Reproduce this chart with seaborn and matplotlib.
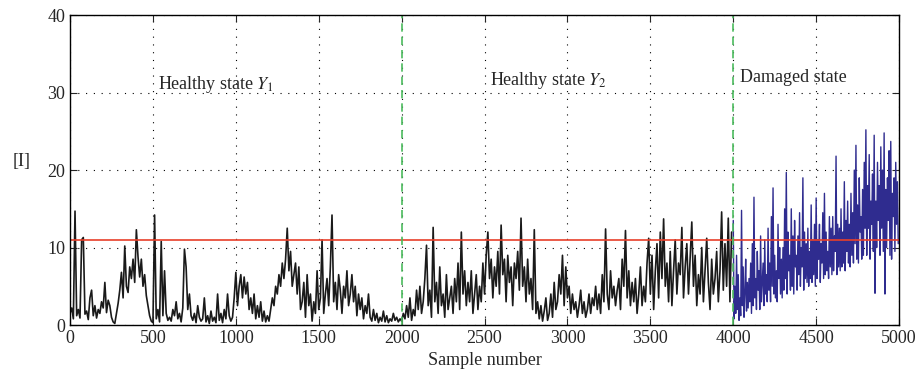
import numpy as np
import matplotlib
matplotlib.use("Agg")
import matplotlib.pyplot as plt
import seaborn as sns

sns.set_style("ticks")
plt.rcParams['font.family'] = ['Liberation Serif', 'DejaVu Serif']
plt.rcParams['mathtext.fontset'] = 'stix'

step_h = 10  # samples between read-off values, healthy part
step_d = 5   # damaged part

# healthy state Y1, samples 0..1990
healthy1 = [
    1.5, 2.2, 0.8, 14.7, 1.2, 2.0, 0.9, 11.0, 11.3, 1.4,
    1.8, 0.7, 3.5, 4.5, 1.2, 2.5, 0.9, 2.0, 1.5, 3.0,
    2.2, 5.5, 1.6, 3.2, 2.5, 1.0, 0.4, 0.2, 1.5, 2.8,
    4.5, 6.8, 3.5, 10.2, 5.0, 4.2, 7.5, 6.0, 8.5, 5.5,
    12.3, 8.8, 6.2, 8.5, 5.0, 6.5, 3.8, 2.5, 1.2, 0.5,
    0.3, 14.2, 0.8, 2.0, 0.4, 10.8, 1.2, 7.0, 1.5, 0.6,
    1.0, 0.5, 2.0, 1.2, 3.0, 0.8, 1.5, 0.4, 2.2, 9.8,
    7.5, 2.0, 4.0, 1.2, 0.6, 1.5, 0.3, 2.5, 1.0, 0.5,
    0.8, 3.5, 0.4, 1.2, 0.2, 1.8, 0.5, 1.0, 0.3, 4.0,
    0.6, 1.5, 0.3, 2.0, 0.8, 4.0, 1.2, 0.5, 1.0, 3.5,
    6.8, 2.5, 5.0, 6.5, 3.5, 6.2, 4.0, 5.5, 2.0, 3.5,
    1.5, 4.0, 0.8, 2.5, 1.0, 3.0, 0.5, 1.8, 0.4, 1.2,
    0.5, 2.0, 3.5, 2.5, 5.0, 4.0, 6.5, 5.0, 8.0, 6.0,
    8.5, 12.5, 7.0, 9.5, 5.0, 6.5, 8.0, 4.0, 7.5, 2.0,
    3.0, 5.5, 1.0, 6.5, 2.5, 4.0, 0.5, 3.0, 1.5, 7.0,
    2.0, 3.5, 11.0, 1.5, 4.0, 6.0, 2.5, 7.5, 14.2, 3.0,
    5.5, 2.0, 6.5, 4.5, 1.5, 5.0, 3.5, 7.0, 2.5, 4.0,
    6.5, 3.0, 5.0, 1.2, 4.0, 2.0, 3.5, 0.8, 2.5, 1.5,
    4.0, 1.0, 0.5, 2.0, 0.6, 1.5, 0.3, 1.0, 0.5, 1.8,
    0.4, 1.2, 0.3, 0.8, 0.5, 1.5, 0.6, 1.0, 0.4, 0.8,
]

# healthy state Y2, samples 2000..3990
healthy2 = [
    0.5, 1.5, 0.8, 2.5, 1.0, 3.5, 0.6, 2.0, 1.2, 4.5,
    2.0, 5.0, 1.5, 3.0, 6.0, 10.3, 2.5, 4.5, 1.0, 12.6,
    3.0, 5.5, 1.5, 7.5, 2.5, 4.0, 1.0, 6.5, 2.0, 3.5,
    5.0, 1.5, 6.0, 3.0, 8.0, 2.0, 12.0, 4.0, 7.0, 2.5,
    5.5, 3.0, 7.0, 1.5, 4.0, 6.5, 2.0, 5.0, 3.0, 8.0,
    4.0, 9.0, 12.0, 6.0, 8.5, 3.5, 7.5, 5.0, 9.5, 4.0,
    12.9, 6.5, 8.5, 3.0, 9.0, 5.5, 7.5, 2.5, 8.0, 6.0,
    9.5, 4.5, 13.8, 5.0, 7.5, 3.0, 8.5, 4.0, 6.0, 2.0,
    12.3, 1.5, 3.0, 0.8, 2.5, 0.5, 1.8, 3.5, 0.6, 1.5,
    4.0, 1.0, 5.5, 2.0, 3.0, 6.5, 4.0, 9.0, 2.5, 7.5,
    3.5, 5.0, 1.5, 4.0, 2.0, 3.0, 1.0, 2.5, 4.5, 1.5,
    3.0, 1.0, 2.0, 4.0, 1.5, 3.5, 2.5, 5.0, 2.0, 4.0,
    1.5, 6.5, 3.0, 12.4, 4.0, 2.0, 7.0, 3.5, 5.0, 2.5,
    4.5, 6.0, 2.0, 8.5, 5.0, 12.2, 3.5, 7.0, 2.5, 5.5,
    3.0, 6.0, 1.5, 4.0, 7.5, 2.5, 5.0, 3.0, 8.0, 11.2,
    4.0, 9.0, 2.0, 7.0, 10.5, 3.5, 12.0, 6.0, 13.7, 5.0,
    8.0, 3.0, 9.5, 2.5, 7.0, 11.0, 4.0, 8.0, 6.5, 12.6,
    3.5, 7.5, 10.5, 4.0, 8.5, 13.3, 5.0, 9.0, 2.5, 6.5,
    4.0, 10.0, 3.0, 7.0, 11.2, 5.5, 2.0, 8.5, 4.0, 6.0,
    9.5, 3.0, 7.0, 14.6, 4.5, 10.5, 5.0, 13.8, 3.0, 12.0,
]

# damaged state, samples 4000..4995
damaged = [
    13.5, 0.8, 5.0, 1.5, 9.0, 2.0, 6.5, 0.6, 3.5, 1.2,
    14.8, 2.5, 7.5, 1.0, 4.0, 8.5, 1.8, 5.5, 2.2, 6.0,
    3.0, 8.0, 1.5, 10.5, 2.5, 16.5, 3.5, 6.0, 2.0, 9.5,
    4.5, 7.0, 2.0, 11.5, 3.0, 5.5, 8.0, 2.5, 11.0, 4.0,
    6.5, 3.0, 12.5, 4.5, 8.0, 3.0, 14.0, 5.0, 17.7, 4.0,
    9.0, 3.5, 7.0, 3.0, 13.0, 6.0, 10.0, 4.0, 8.5, 3.5,
    10.0, 4.5, 15.0, 6.0, 19.7, 4.0, 12.0, 7.0, 9.0, 4.5,
    15.0, 5.0, 11.5, 4.0, 13.5, 7.5, 9.0, 4.5, 11.5, 6.5,
    14.5, 5.0, 10.0, 7.5, 19.0, 4.5, 12.0, 6.0, 10.5, 5.5,
    12.5, 5.0, 9.5, 6.0, 15.5, 5.5, 11.0, 6.5, 13.0, 5.0,
    16.4, 6.0, 11.0, 8.5, 13.0, 5.5, 10.5, 8.0, 14.5, 6.0,
    17.0, 6.5, 12.0, 7.0, 9.5, 6.0, 14.0, 7.5, 12.5, 6.5,
    14.0, 7.0, 11.5, 9.5, 21.8, 6.5, 13.0, 7.5, 12.5, 7.0,
    15.0, 7.5, 12.0, 8.0, 18.5, 7.0, 13.5, 9.5, 16.0, 8.0,
    13.0, 7.5, 17.0, 9.0, 14.5, 8.0, 20.0, 10.5, 23.2, 8.5,
    15.5, 8.0, 19.0, 12.0, 14.0, 8.5, 17.5, 9.0, 21.0, 12.5,
    25.2, 9.0, 18.0, 12.5, 22.0, 8.5, 16.0, 13.0, 19.5, 9.5,
    24.5, 4.1, 16.0, 10.0, 21.0, 13.5, 18.0, 9.0, 23.0, 12.5,
    20.0, 9.5, 24.8, 4.0, 17.5, 10.0, 19.0, 13.5, 22.5, 9.0,
    23.7, 8.5, 17.0, 14.0, 19.0, 9.5, 21.0, 13.0, 18.5, 10.5,
]

threshold = 11.0
boundaries = [2000, 4000]
labels = [(530, 31.0, r"Healthy state $Y_1$"),
          (2530, 31.6, r"Healthy state $Y_2$"),
          (4040, 31.9, "Damaged state")]

healthy = healthy1 + healthy2
x_h = np.arange(len(healthy)) * step_h
x_d = 4000 + np.arange(len(damaged)) * step_d

fig = plt.figure(figsize=(9.24, 3.89), dpi=100)
ax = fig.add_axes([0.0758, 0.1645, 0.8972, 0.7965])

sns.lineplot(x=x_h, y=healthy, color="#1a1a1a", lw=1.2, ax=ax)
sns.lineplot(x=x_d, y=damaged, color="#2f2c8f", lw=1.0, ax=ax)
ax.axhline(threshold, color="#e8402a", lw=1.2)
for b in boundaries:
    ax.axvline(b, color="#4cbb5e", lw=1.2, ls=(0, (5, 3)))

for tx, ty, t in labels:
    ax.text(tx, ty, t, fontsize=13, va="center", ha="left")

ax.set_xlim(0, 5000)
ax.set_ylim(0, 40)
ax.set_xticks(range(0, 5001, 500))
ax.set_yticks(range(0, 41, 10))
ax.grid(True, color="black", ls=(0, (1, 6)), lw=0.8)
ax.tick_params(direction="in", top=True, right=True, labelsize=13, length=5)
for s in ax.spines.values():
    s.set_visible(True)
    s.set_color("black")
    s.set_linewidth(1.0)
ax.set_xlabel("Sample number", fontsize=13)
ax.set_ylabel("[I]", fontsize=13, rotation=0, labelpad=14)
ax.yaxis.set_label_coords(-0.058, 0.5)

fig.savefig("out.png", dpi=100)
